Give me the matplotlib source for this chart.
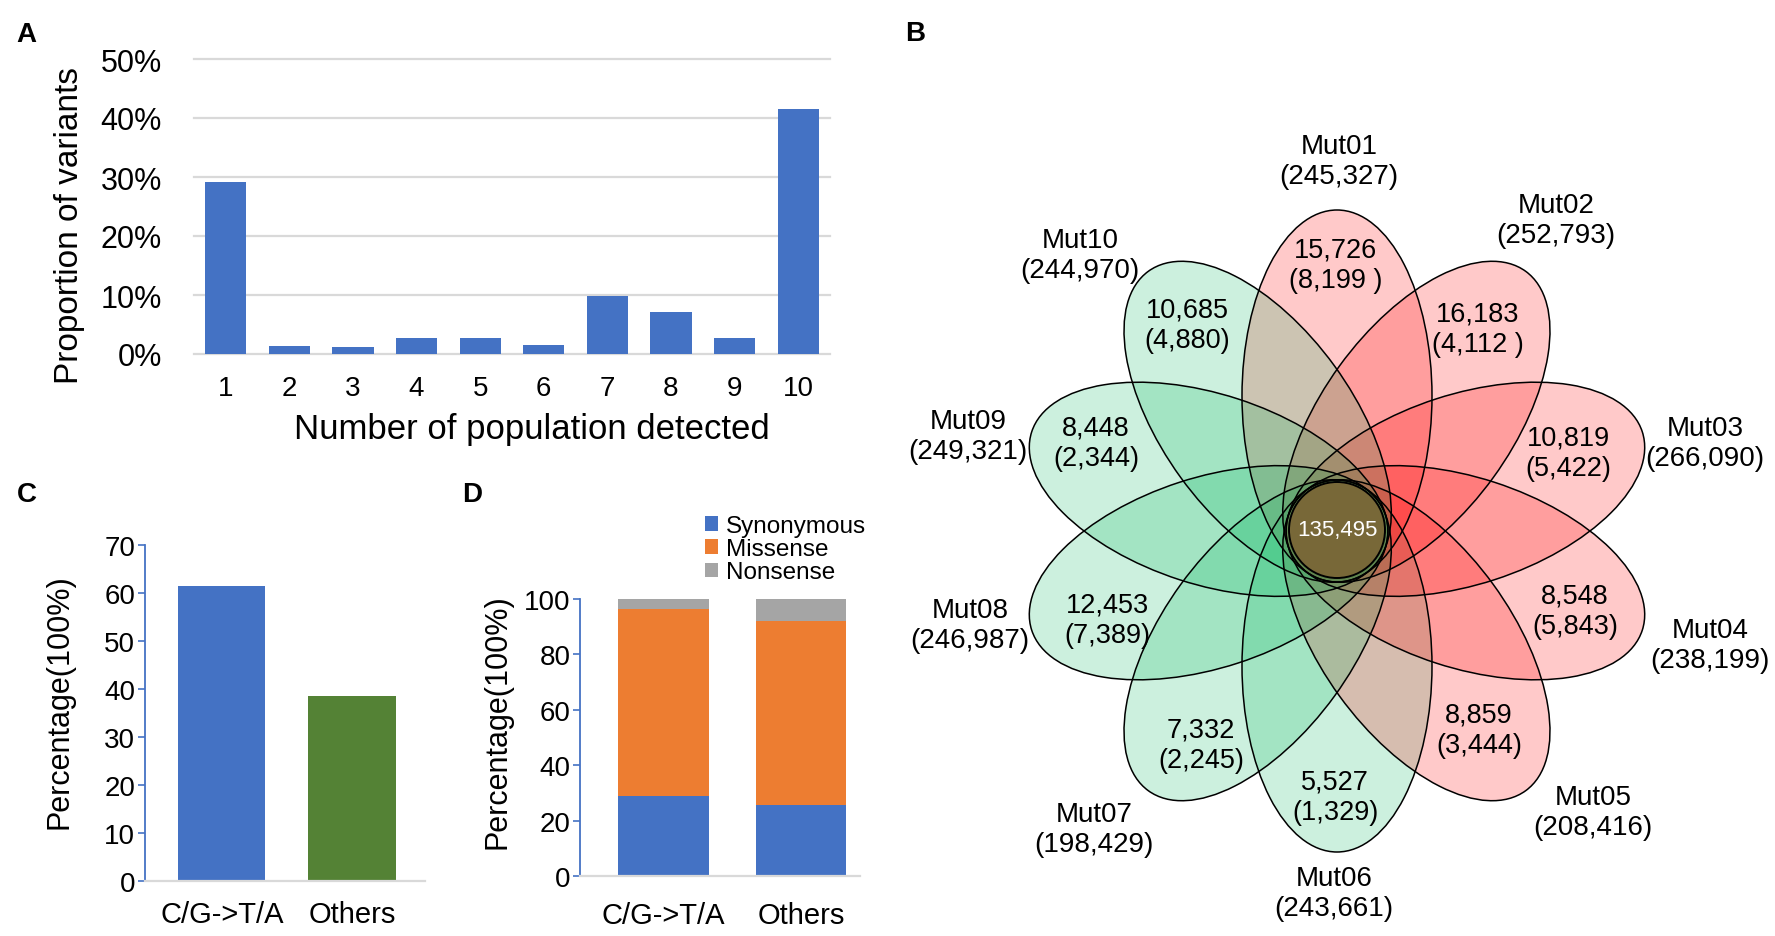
import numpy as np
import matplotlib

matplotlib.use('Agg')
import matplotlib.pyplot as plt
from matplotlib.patches import Ellipse, Circle

plt.rcParams['font.family'] = ['Liberation Sans', 'DejaVu Sans']

# ---- data ----
# A: share of variants by number of populations in which they were detected
n_pop = [1, 2, 3, 4, 5, 6, 7, 8, 9, 10]
prop_variants = [29.2, 1.4, 1.25, 2.7, 2.7, 1.6, 9.8, 7.1, 2.7, 41.5]

# C: mutation type share
mut_types = ['C/G->T/A', 'Others']
mut_share = [61.4, 38.6]

# D: effect of mutations per type
synonymous = [28.8, 25.7]
missense = [67.5, 66.5]
nonsense = [3.7, 7.8]

# B: flower diagram
mutants = ['Mut01', 'Mut02', 'Mut03', 'Mut04', 'Mut05',
           'Mut06', 'Mut07', 'Mut08', 'Mut09', 'Mut10']
totals = [245327, 252793, 266090, 238199, 208416,
          243661, 198429, 246987, 249321, 244970]
unique = [15726, 16183, 10819, 8548, 8859, 5527, 7332, 12453, 8448, 10685]
unique_sub = ['(8,199 )', '(4,112 )', '(5,422)', '(5,843)', '(3,444)',
              '(1,329)', '(2,245)', '(7,389)', '(2,344)', '(4,880)']
core = 135495

BLUE = '#4472C4'
GREEN = '#548235'
ORANGE = '#ED7D31'
GRAY = '#A5A5A5'
GRID = '#D9D9D9'

W, H = 1775, 937
fig = plt.figure(figsize=(W / 100, H / 100), dpi=100)


def px_axes(x0, y0, x1, y1):
    # rectangle given in pixels (top-left origin)
    return fig.add_axes([x0 / W, 1 - y1 / H, (x1 - x0) / W, (y1 - y0) / H])


# ---------- panel A ----------
axA = px_axes(194, 60, 830, 355)
axA.bar(n_pop, prop_variants, width=0.65, color=BLUE, zorder=3)
axA.set_xlim(0.5, 10.5)
axA.set_ylim(0, 50)
axA.set_xticks(n_pop)
axA.set_yticks(range(0, 51, 10))
axA.set_yticklabels([f'{v}%' for v in range(0, 51, 10)])
axA.yaxis.grid(True, color=GRID, lw=1.6)
for ln in axA.get_ygridlines():
    ln.set_clip_on(False)
axA.set_axisbelow(True)
for s in axA.spines.values():
    s.set_visible(False)
axA.tick_params(axis='y', length=0, pad=23, labelsize=22)
axA.tick_params(axis='x', length=0, pad=15, labelsize=20)
axA.set_xlabel('Number of population detected', fontsize=25, va='center')
axA.xaxis.set_label_coords(0.531, -0.252)
axA.set_ylabel('Proportion of variants', fontsize=24, va='center')
axA.yaxis.set_label_coords(-0.195, 0.44)

# ---------- panel C ----------
axC = px_axes(145, 546, 425, 882)
xc = np.arange(len(mut_types))
axC.bar(xc, mut_share, width=0.67, color=[BLUE, GREEN])
axC.set_xlim(-0.59, 1.56)
axC.set_ylim(0, 70)
axC.set_xticks(xc)
axC.set_xticklabels(mut_types)
axC.set_yticks(range(0, 71, 10))
for side in ('top', 'right'):
    axC.spines[side].set_visible(False)
axC.spines['left'].set_color(BLUE)
axC.spines['left'].set_linewidth(1.3)
axC.spines['bottom'].set_color(GRID)
axC.spines['bottom'].set_linewidth(1.6)
axC.tick_params(axis='y', length=5, width=1.2, color=BLUE, pad=2, labelsize=20)
axC.tick_params(axis='x', length=0, pad=14, labelsize=21)
axC.set_ylabel('Percentage(100%)', fontsize=22, va='center')
axC.yaxis.set_label_coords(-0.307, 0.536)

# ---------- panel D ----------
axD = px_axes(580, 600, 860, 877)
xd = np.arange(len(mut_types))
b1 = axD.bar(xd, synonymous, width=0.66, color=BLUE, label='Synonymous')
b2 = axD.bar(xd, missense, width=0.66, bottom=synonymous, color=ORANGE, label='Missense')
b3 = axD.bar(xd, nonsense, width=0.66, bottom=np.add(synonymous, missense),
             color=GRAY, label='Nonsense')
axD.set_xlim(-0.61, 1.43)
axD.set_ylim(0, 100)
axD.set_xticks(xd)
axD.set_xticklabels(mut_types)
axD.set_yticks(range(0, 101, 20))
for side in ('top', 'right'):
    axD.spines[side].set_visible(False)
axD.spines['left'].set_color(BLUE)
axD.spines['left'].set_linewidth(1.3)
axD.spines['bottom'].set_color(GRID)
axD.spines['bottom'].set_linewidth(1.6)
axD.tick_params(axis='y', length=5, width=1.2, color=BLUE, pad=2, labelsize=20)
axD.tick_params(axis='x', length=0, pad=18, labelsize=21)
axD.set_ylabel('Percentage(100%)', fontsize=22, va='center')
axD.yaxis.set_label_coords(-0.293, 0.56)
axD.legend(handles=[b1, b2, b3], loc='upper left',
           bbox_to_anchor=(705 / W, 1 - 516 / H), bbox_transform=fig.transFigure,
           frameon=False, fontsize=17.5, handlelength=0.55, handleheight=0.55,
           handletextpad=0.3, labelspacing=0.05, borderpad=0, borderaxespad=0)

# ---------- panel B ----------
axB = fig.add_axes([0, 0, 1, 1])
axB.set_xlim(0, W)
axB.set_ylim(H, 0)
axB.axis('off')

cx, cy = 1337, 532
d, a, b = 135, 186, 95
red_rgb = (1.0, 0.0, 0.0)
green_rgb = (0.0, 0.706, 0.353)
angles = [90 - 36 * i for i in range(10)]
draw_order = [5, 0, 1, 2, 3, 4, 6, 7, 8, 9]
for i in draw_order:
    th = np.deg2rad(angles[i])
    col = red_rgb if i < 5 else green_rgb
    alpha = 0.21 if i < 5 else 0.2
    axB.add_patch(Ellipse((cx + d * np.cos(th), cy - d * np.sin(th)), 2 * a, 2 * b,
                          angle=-angles[i], fc=col, alpha=alpha, ec='none'))
for i in range(10):
    th = np.deg2rad(angles[i])
    axB.add_patch(Ellipse((cx + d * np.cos(th), cy - d * np.sin(th)), 2 * a, 2 * b,
                          angle=-angles[i], fc='none', ec='black', lw=1.1))

axB.add_patch(Circle((cx, cy - 1), 48, fc='#786838', ec='black', lw=1.4, zorder=3))
axB.text(cx, cy - 1, f'{core:,}', color='white', fontsize=16, ha='center', va='center',
         zorder=4)

# label positions (pixels)
name_pos = [(1339, 162), (1556, 221), (1705, 444), (1710, 646), (1593, 813),
            (1334, 894), (1094, 830), (970, 626), (968, 437), (1080, 256)]
region_pos = [(1336, 266), (1478, 330), (1568, 454), (1575, 612), (1479, 731),
              (1335, 798), (1201, 746), (1107, 621), (1096, 444), (1187, 326)]
for i in range(10):
    axB.text(*name_pos[i], f'{mutants[i]}\n({totals[i]:,})', fontsize=20,
             ha='center', va='center', linespacing=1.2)
    axB.text(*region_pos[i], f'{unique[i]:,}\n{unique_sub[i]}', fontsize=19.5,
             ha='center', va='center', linespacing=1.2)

# panel letters
for lab, (x, y) in {'A': (26, 35), 'B': (915, 34), 'C': (27, 495), 'D': (472, 495)}.items():
    fig.text(x / W, 1 - y / H, lab, fontsize=20, fontweight='bold', ha='center', va='center')

fig.savefig('out.png', dpi=100)
